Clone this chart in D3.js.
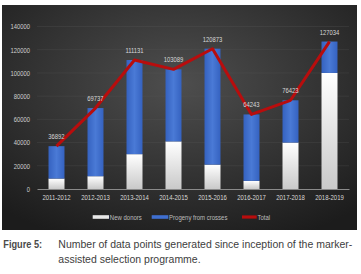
<!DOCTYPE html>
<html>
<head>
<meta charset="utf-8">
<script src="https://cdn.jsdelivr.net/npm/d3@7"></script>
<style>
  body { margin: 0; background: #fff; }
  svg text { font-family: "Liberation Sans", Arial, sans-serif; }
</style>
</head>
<body>
<div id="chart"></div>
<script>
const years = ["2011-2012", "2012-2013", "2013-2014", "2014-2015", "2015-2016", "2016-2017", "2017-2018", "2018-2019"];
const totals = [36892, 69737, 111131, 103089, 120873, 64243, 76423, 127034];
const newDonors = [9000, 11000, 30000, 41000, 21000, 7000, 40000, 100000];
const progeny = [27892, 58737, 81131, 62089, 99873, 57243, 36423, 27034];
const yTicks = [0, 20000, 40000, 60000, 80000, 100000, 120000, 140000];
const legendItems = ["New donors", "Progeny from crosses", "Total"];

const W = 361, H = 274;
const panel = { x: 2, y: 5, w: 355, h: 225 };
const margin = { left: 37, right: 12, top: 26.5, bottom: 41 };

// squeeze a wide font into the narrow look of the original
function narrow(sel, f) {
    sel.each(function () {
        const w = this.getComputedTextLength();
        d3.select(this).attr("textLength", w * f).attr("lengthAdjust", "spacingAndGlyphs");
    });
}

const svg = d3.select("#chart").append("svg")
    .attr("width", W)
    .attr("height", H);

const defs = svg.append("defs");
const bg = defs.append("radialGradient").attr("id", "bg")
    .attr("cx", "50%").attr("cy", "35%").attr("r", "75%");
bg.append("stop").attr("offset", "0%").attr("stop-color", "#4e4e4e");
bg.append("stop").attr("offset", "100%").attr("stop-color", "#1c1c1c");

const whiteG = defs.append("linearGradient").attr("id", "whiteG")
    .attr("x1", 0).attr("y1", 0).attr("x2", 0).attr("y2", 1);
whiteG.append("stop").attr("offset", "0%").attr("stop-color", "#ffffff");
whiteG.append("stop").attr("offset", "100%").attr("stop-color", "#c9c9c9");

const blueG = defs.append("linearGradient").attr("id", "blueG")
    .attr("x1", 0).attr("y1", 0).attr("x2", 1).attr("y2", 0);
blueG.append("stop").attr("offset", "0%").attr("stop-color", "#3562c0");
blueG.append("stop").attr("offset", "50%").attr("stop-color", "#4a7ad6");
blueG.append("stop").attr("offset", "100%").attr("stop-color", "#3562c0");

svg.append("rect")
    .attr("x", panel.x).attr("y", panel.y)
    .attr("width", panel.w).attr("height", panel.h)
    .attr("fill", "url(#bg)");

const x = d3.scaleBand()
    .domain(years)
    .range([margin.left, 349])
    .paddingInner(0.59)
    .paddingOuter(0.295);

const y = d3.scaleLinear()
    .domain([0, 140000])
    .range([189, margin.top]);

// gridlines
svg.append("g")
    .selectAll("line")
    .data(yTicks.slice(1))
    .join("line")
    .attr("x1", margin.left).attr("x2", 349)
    .attr("y1", d => y(d)).attr("y2", d => y(d))
    .attr("stroke", "#5a5a5a")
    .attr("stroke-opacity", 0.45)
    .attr("stroke-width", 0.6);

// y axis labels
svg.append("g")
    .attr("transform", `translate(${margin.left - 7},0)`)
    .call(d3.axisLeft(y).tickValues(yTicks).tickSize(0).tickPadding(0).tickFormat(d3.format("d")))
    .call(g => g.select(".domain").remove())
    .selectAll("text")
    .attr("fill", "#cfcfcf")
    .attr("font-size", 7.5)
    .call(narrow, 0.78);

// stacked bars
const rows = years.map((yr, i) => ({ year: yr, donors: newDonors[i], progeny: progeny[i] }));
const stacked = d3.stack().keys(["donors", "progeny"])(rows);
const fills = { donors: "url(#whiteG)", progeny: "url(#blueG)" };

svg.append("g")
    .selectAll("g")
    .data(stacked)
    .join("g")
    .attr("fill", d => fills[d.key])
    .selectAll("rect")
    .data(d => d)
    .join("rect")
    .attr("x", d => x(d.data.year))
    .attr("y", d => y(d[1]))
    .attr("height", d => y(d[0]) - y(d[1]))
    .attr("width", x.bandwidth());

// x axis
svg.append("g")
    .attr("transform", `translate(0,${y(0)})`)
    .call(d3.axisBottom(x).tickSize(0).tickPadding(6))
    .call(g => g.select(".domain").attr("stroke", "#8a8a8a").attr("stroke-width", 1.2))
    .selectAll("text")
    .attr("fill", "#d8d8d8")
    .attr("font-size", 7.5)
    .call(narrow, 0.8);

// total line
const line = d3.line()
    .x((d, i) => x(years[i]) + x.bandwidth() / 2)
    .y(d => y(d));

svg.append("path")
    .datum(totals)
    .attr("d", line)
    .attr("fill", "none")
    .attr("stroke", "#b80d0d")
    .attr("stroke-width", 3)
    .attr("stroke-linejoin", "round");

// value labels
svg.append("g")
    .selectAll("text")
    .data(totals)
    .join("text")
    .attr("x", (d, i) => x(years[i]) + x.bandwidth() / 2)
    .attr("y", d => y(d) - 7)
    .attr("text-anchor", "middle")
    .attr("fill", "#d8d8d8")
    .attr("font-size", 7.5)
    .text(d => d)
    .call(narrow, 0.78);

// legend
const legend = svg.append("g").attr("transform", "translate(0,217)");
const legendX = [92.7, 151.7, 242];
const legendW = [16.3, 16.6, 14.7];
legend.selectAll("rect")
    .data(legendItems.slice(0, 2))
    .join("rect")
    .attr("x", (d, i) => legendX[i])
    .attr("y", -1.8)
    .attr("width", (d, i) => legendW[i])
    .attr("height", 3.6)
    .attr("fill", (d, i) => i === 0 ? "#e8e8e8" : "#3f6fd0");
legend.append("line")
    .attr("x1", legendX[2]).attr("x2", legendX[2] + legendW[2])
    .attr("y1", 0).attr("y2", 0)
    .attr("stroke", "#b80d0d")
    .attr("stroke-width", 3.2);
legend.selectAll("text")
    .data(legendItems)
    .join("text")
    .attr("x", (d, i) => legendX[i] + legendW[i] + 0.8)
    .attr("y", 2.6)
    .attr("fill", "#bdbdbd")
    .attr("font-size", 7.5)
    .text(d => d)
    .call(narrow, 0.8);

// caption
const cap = svg.append("g").attr("fill", "#3d3d3d").attr("font-size", 10.5);
cap.append("text")
    .attr("x", 3.3).attr("y", 248)
    .attr("font-size", 11.5)
    .attr("font-weight", "bold")
    .attr("fill", "#4a4a4a")
    .text("Figure 5:")
    .call(narrow, 0.8);
const line1 = cap.append("text")
    .attr("x", 58.3).attr("y", 248)
    .text("Number of data points generated since inception of the marker-");
const f = 294 / line1.node().getComputedTextLength();
line1.call(narrow, f);
cap.append("text")
    .attr("x", 58.3).attr("y", 262.7)
    .text("assisted selection programme.")
    .call(narrow, f);
</script>
</body>
</html>
